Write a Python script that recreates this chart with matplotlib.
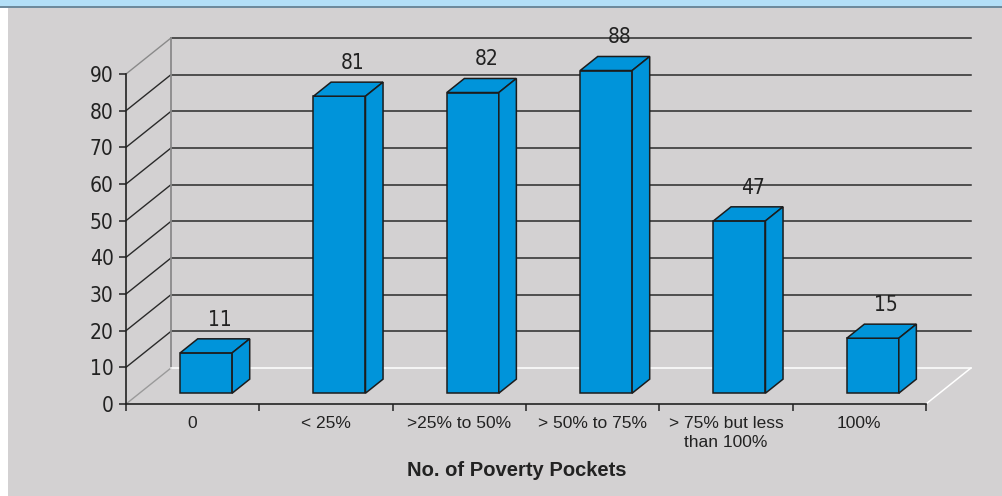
import matplotlib
matplotlib.use('Agg')
import matplotlib.pyplot as plt
from matplotlib.patches import Polygon, Rectangle

# data
categories = ['0', '< 25%', '>25% to 50%', '> 50% to 75%', '> 75% but less\nthan 100%', '100%']
values = [11, 81, 82, 88, 47, 15]
yticks = list(range(0, 100, 10))
xlabel = 'No. of Poverty Pockets'

# look
bg = '#d3d1d2'
bar_col = '#0094da'
edge = '#1c1c1c'
narrow = ['DejaVu Sans']
sans = ['Liberation Sans', 'DejaVu Sans']

# oblique depth, in data units
DX = 0.3375
DY = 9.82
z0, z1 = 0.3, 0.69
bw = 0.39

fig = plt.figure(figsize=(10.02, 4.96), dpi=100)
fig.patch.set_facecolor('white')
# grey panel and the cut-off blue title band
fig.add_artist(Rectangle((8 / 1002, 0), 1, 489 / 496, transform=fig.transFigure,
                         facecolor=bg, edgecolor='none', zorder=0))
fig.add_artist(Rectangle((0, 490 / 496), 1, 6 / 496, transform=fig.transFigure,
                         facecolor='#b3dff7', edgecolor='none', zorder=0))
fig.add_artist(Rectangle((0, 488.5 / 496), 1, 2 / 496, transform=fig.transFigure,
                         facecolor='#6e8a9c', edgecolor='none', zorder=0))

ax = fig.add_axes([126 / 1002, 92 / 496, 853.3 / 1002, 385 / 496])
ax.set_facecolor('none')
ax.set_xlim(0, 6.4)
ax.set_ylim(0, 105)
n = len(categories)

# walls: back gridlines, side diagonals
for y in yticks:
    if y == 0:
        continue
    c = '#8a8a8a' if y == 90 else '#2a2a2a'
    ax.plot([DX, n + DX], [y + DY, y + DY], color='#2a2a2a', lw=1.1, zorder=1)
    ax.plot([0, DX], [y, y + DY], color=c, lw=1.0, zorder=1)
ax.plot([DX, DX], [DY, 90 + DY], color='#8a8a8a', lw=1.3, zorder=1)
ax.plot([0, DX], [0, DY], color='#9a9a9a', lw=1.0, zorder=1)
# floor edges
ax.plot([DX, n + DX], [DY, DY], color='white', lw=1.1, zorder=1)
ax.plot([n, n + DX], [0, DY], color='white', lw=1.1, zorder=1)

# bars
for i, v in enumerate(values):
    xc = i + 0.5 + z0 * DX
    x0, x1 = xc - bw / 2, xc + bw / 2
    yb, yt = z0 * DY, v + z0 * DY
    ddx, ddy = (z1 - z0) * DX, (z1 - z0) * DY
    ax.bar(xc, v, width=bw, bottom=yb, color=bar_col, edgecolor=edge, lw=1.1, zorder=3)
    top = Polygon([(x0, yt), (x1, yt), (x1 + ddx, yt + ddy), (x0 + ddx, yt + ddy)],
                  closed=True, facecolor=bar_col, edgecolor=edge, lw=1.1, zorder=3)
    side = Polygon([(x1, yb), (x1 + ddx, yb + ddy), (x1 + ddx, yt + ddy), (x1, yt)],
                   closed=True, facecolor=bar_col, edgecolor=edge, lw=1.1, zorder=3)
    ax.add_patch(top)
    ax.add_patch(side)
    ax.text(i + 0.5 + 0.6 * DX, v + 12, str(v), ha='center', va='center',
            fontsize=15, family=narrow, stretch='condensed', color='#222222', zorder=4)

# front axes
for s in ['top', 'right']:
    ax.spines[s].set_visible(False)
ax.spines['left'].set_bounds(0, 90)
ax.spines['bottom'].set_bounds(0, n)
for s in ['left', 'bottom']:
    ax.spines[s].set_color('#222222')
    ax.spines[s].set_linewidth(1.2)
    ax.spines[s].set_zorder(2)

ax.set_yticks(yticks)
ax.set_yticklabels([str(t) for t in yticks], family=narrow, stretch='condensed',
                   fontsize=15, color='#222222')
ax.tick_params(axis='y', length=5, width=1.1, color='#222222', pad=4)

ax.set_xticks(range(n + 1))
ax.set_xticklabels([])
ax.set_xticks([i + 0.5 for i in range(n)], minor=True)
ax.set_xticklabels(categories, minor=True, family=sans, fontsize=12.5,
                   color='#222222', linespacing=1.3)
ax.tick_params(axis='x', which='major', length=5, width=1.1, color='#222222')
ax.tick_params(axis='x', which='minor', length=0, pad=9)

ax.text(2.93, -18, xlabel, ha='center', va='center', fontsize=14.5,
        fontweight='bold', family=sans, color='#222222')

fig.savefig('out.png', dpi=100)
